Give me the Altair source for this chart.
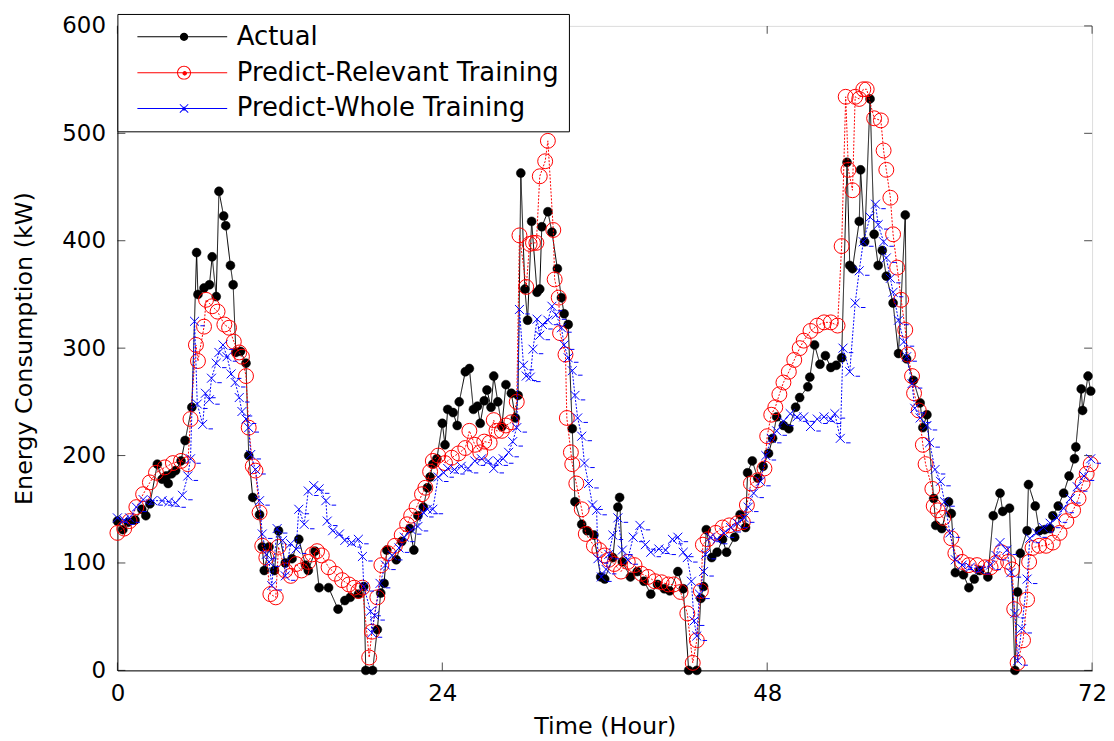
import altair as alt
import pandas as pd

# ---------------- data ----------------
series_names = ["Actual", "Predict-Relevant Training", "Predict-Whole Training"]
series_colors = ["#000000", "#ff0000", "#0000ff"]
x_ticks = [0, 24, 48, 72]
y_ticks = [0, 100, 200, 300, 400, 500, 600]

actual_hour = [0.0, 0.4, 0.8, 1.3, 1.8, 2.1, 2.4, 2.95, 3.3, 3.6, 3.75, 4.0, 4.3, 4.7, 5.0, 5.5, 5.85, 5.95,
               6.4, 6.8, 7.0, 7.3, 7.5, 7.85, 8.0, 8.35, 8.55, 8.75, 9.1, 9.5, 9.7, 10.0, 10.5, 10.7, 10.85,
               11.2, 11.6, 11.9, 12.4, 12.9, 13.4, 13.9, 14.1, 14.6, 14.9, 15.6, 16.3, 16.8, 17.2, 17.8, 18.2,
               18.35, 18.85, 19.2, 19.45, 19.7, 19.9, 20.6, 21.0, 21.6, 21.9, 22.2, 22.6, 22.9, 23.1, 23.3, 23.6,
               24.0, 24.2, 24.4, 24.8, 25.1, 25.25, 25.7, 26.0, 26.3, 26.6, 26.8, 27.1, 27.3, 27.6, 27.8, 28.1,
               28.4, 28.7, 29.1, 29.4, 29.6, 29.8, 30.1, 30.3, 30.6, 31.0, 31.2, 31.35, 31.8, 32.1, 32.5, 32.8,
               33.0, 33.3, 33.6, 33.8, 34.3, 34.7, 35.2, 35.7, 36.0, 36.6, 36.97, 37.1, 37.3, 37.9, 38.4, 38.9,
               39.4, 39.9, 40.4, 40.8, 41.4, 41.8, 42.2, 42.8, 43.1, 43.3, 43.5, 43.9, 44.3, 44.7, 45.0, 45.6,
               46.0, 46.4, 46.55, 46.9, 47.3, 47.7, 48.1, 48.4, 48.7, 49.2, 49.6, 50.1, 50.4, 51.0, 51.15, 51.5,
               51.9, 52.3, 52.7, 53.1, 53.5, 53.9, 54.1, 54.3, 54.8, 54.9, 55.2, 55.6, 55.9, 56.2, 56.5, 56.8,
               57.3, 57.7, 58.2, 58.3, 58.8, 59.3, 59.5, 59.8, 60.3, 60.45, 60.9, 61.4, 61.6, 61.9, 62.5, 62.9,
               63.3, 63.7, 64.3, 64.7, 65.2, 65.4, 65.9, 66.3, 66.5, 66.7, 67.2, 67.3, 67.8, 68.1, 68.5, 68.9,
               69.1, 69.5, 69.9, 70.3, 70.7, 70.8, 71.2, 71.3, 71.7, 71.9]
actual_kw = [139, 131, 138, 140, 150, 144, 155, 192, 178, 181, 174, 183, 186, 195, 214, 245, 389, 350,
             356, 359, 385, 348, 446, 423, 414, 377, 359, 296, 297, 286, 200, 161, 145, 115, 93,
             115, 93, 130, 100, 104, 122, 98, 93, 111, 77, 77, 57, 65, 68, 71, 78,
             0, 0, 38, 72, 81, 112, 103, 120, 132, 112, 144, 152, 170, 180, 192, 197,
             230, 210, 243, 240, 228, 250, 278, 281, 243, 246, 230, 251, 261, 245, 274, 250,
             227, 266, 258, 235, 256, 463, 355, 326, 418, 352, 355, 413, 427, 408, 374, 347,
             332, 322, 225, 157, 136, 130, 126, 87, 85, 105, 152, 161, 101, 87, 92, 83,
             71, 80, 76, 74, 92, 76, 0, 0, 67, 78, 131, 105, 110, 122, 110, 124,
             145, 133, 184, 195, 179, 190, 202, 216, 236, 228, 225, 245, 254, 264, 273, 303,
             285, 293, 282, 284, 291, 473, 377, 374, 418, 466, 399, 532, 406, 377, 391, 367,
             342, 295, 424, 290, 270, 249, 226, 238, 160, 135, 132, 157, 146, 91, 89, 77,
             85, 93, 87, 144, 165, 148, 151, 0, 73, 109, 130, 173, 153, 130, 131, 132,
             144, 153, 165, 181, 197, 208, 262, 242, 274, 260]

relevant_hour = [0.0, 0.5, 0.9, 1.4, 1.9, 2.4, 2.85, 3.5, 4.1, 4.7, 5.2, 5.4, 5.8, 5.95, 6.4, 6.55, 7.0, 7.4,
                 7.9, 8.25, 8.6, 9.0, 9.2, 9.5, 9.7, 10.0, 10.2, 10.5, 10.7, 11.0, 11.3, 11.7, 11.9, 12.4,
                 12.8, 13.2, 13.6, 14.1, 14.4, 14.75, 15.1, 15.6, 16.1, 16.6, 17.1, 17.5, 17.8, 18.1, 18.6,
                 18.8, 19.2, 19.5, 20.0, 20.5, 21.0, 21.4, 21.7, 22.1, 22.5, 22.75, 23.1, 23.3, 23.7, 24.2,
                 24.7, 25.2, 25.7, 26.0, 26.4, 26.8, 27.1, 27.5, 27.8, 28.0, 28.4, 28.7, 29.1, 29.5, 29.7,
                 30.2, 30.45, 30.7, 30.95, 31.2, 31.6, 31.8, 32.2, 32.3, 32.6, 32.7, 33.1, 33.2, 33.5, 33.6,
                 33.9, 34.3, 34.6, 35.2, 35.6, 36.0, 36.3, 36.7, 37.2, 37.7, 38.2, 38.7, 39.2, 39.7, 40.2,
                 40.7, 41.1, 41.6, 42.1, 42.5, 42.8, 43.1, 43.25, 43.6, 44.2, 44.7, 45.2, 45.8, 46.2, 46.5,
                 46.8, 47.3, 47.8, 48.0, 48.3, 48.6, 48.9, 49.2, 49.6, 50.0, 50.4, 50.7, 51.2, 51.7, 52.2,
                 52.7, 53.2, 53.5, 53.8, 54.0, 54.3, 54.5, 54.8, 55.1, 55.35, 55.9, 56.4, 56.6, 56.8, 57.1,
                 57.3, 57.6, 57.9, 58.2, 58.4, 58.7, 58.85, 59.2, 59.5, 59.7, 60.2, 60.3, 60.6, 61.0, 61.6,
                 61.9, 62.4, 62.9, 63.5, 64.1, 64.5, 64.9, 65.3, 65.8, 66.1, 66.25, 66.5, 66.9, 67.2, 67.35,
                 67.6, 68.1, 68.6, 69.1, 69.6, 70.1, 70.6, 71.0, 71.3, 71.6, 71.9]
relevant_kw = [128, 132, 139, 152, 164, 175, 184, 189, 193, 195, 192, 234, 303, 288, 320, 345, 339, 334,
               322, 319, 306, 296, 292, 274, 226, 190, 186, 147, 116, 105, 71, 68, 115, 93,
               88, 99, 93, 101, 108, 111, 107, 96, 90, 84, 80, 77, 74, 77, 12,
               36, 68, 98, 109, 116, 126, 136, 144, 152, 164, 170, 185, 195, 200, 193,
               198, 202, 207, 223, 210, 203, 213, 212, 233, 223, 223, 228, 231, 250, 405,
               357, 397, 398, 398, 460, 474, 493, 410, 364, 347, 314, 294, 235, 203, 192,
               174, 150, 127, 116, 112, 107, 103, 99, 92, 101, 98, 90, 87, 83, 82,
               80, 80, 73, 53, 7, 28, 74, 117, 122, 128, 133, 135, 137, 138, 154,
               174, 177, 188, 218, 238, 245, 257, 268, 278, 289, 300, 307, 316, 321, 324,
               324, 321, 395, 534, 466, 447, 534, 532, 541, 541, 514, 512, 484, 466, 440,
               406, 375, 345, 317, 294, 274, 258, 242, 210, 192, 169, 153, 149, 142, 123,
               109, 101, 98, 98, 96, 96, 100, 110, 101, 94, 57, 7, 28, 66, 101,
               114, 116, 116, 119, 128, 139, 149, 160, 174, 183, 192]

whole_hour = [0.0, 0.5, 0.9, 1.4, 1.9, 2.6, 3.3, 3.8, 4.3, 4.8, 5.2, 5.4, 5.7, 5.9, 6.3, 6.5, 6.8, 6.95, 7.3,
              7.5, 7.8, 8.1, 8.4, 8.7, 9.0, 9.2, 9.5, 9.7, 9.85, 10.2, 10.5, 10.7, 11.0, 11.2, 11.4, 11.8,
              12.2, 12.4, 12.8, 13.2, 13.4, 13.8, 14.1, 14.5, 14.9, 15.4, 15.5, 15.9, 16.4, 16.8, 17.3,
              17.8, 18.1, 18.2, 18.7, 18.8, 19.0, 19.4, 19.8, 20.3, 20.8, 21.2, 21.7, 22.2, 22.6, 22.9,
              23.3, 23.7, 24.1, 24.4, 24.9, 25.4, 25.9, 26.4, 26.9, 27.4, 27.8, 28.1, 28.5, 28.9, 29.2,
              29.5, 29.7, 30.0, 30.2, 30.5, 30.7, 31.0, 31.2, 31.4, 31.8, 32.1, 32.4, 32.8, 33.0, 33.3,
              33.6, 33.8, 34.0, 34.3, 34.5, 34.8, 35.1, 35.4, 35.5, 35.75, 36.1, 36.3, 36.6, 36.97, 37.3,
              37.7, 38.1, 38.6, 39.0, 39.4, 40.0, 40.5, 41.0, 41.4, 41.8, 42.1, 42.4, 42.6, 42.8, 43.0,
              43.3, 43.45, 43.8, 44.3, 44.8, 45.3, 45.8, 46.3, 46.6, 47.0, 47.5, 47.9, 48.3, 48.7, 49.2,
              49.7, 50.2, 50.7, 51.2, 51.7, 52.2, 52.7, 53.0, 53.4, 53.6, 54.1, 54.5, 54.8, 55.1, 55.6,
              56.0, 56.2, 56.6, 56.8, 57.1, 57.3, 57.7, 58.1, 58.3, 58.7, 58.9, 59.3, 59.8, 60.0, 60.4,
              60.8, 61.1, 61.5, 61.9, 62.4, 63.0, 63.7, 64.5, 64.9, 65.2, 65.7, 66.0, 66.3, 66.5, 66.8,
              67.2, 67.4, 67.9, 68.4, 68.9, 69.4, 69.9, 70.4, 70.9, 71.4, 71.9]
whole_kw = [142, 140, 142, 152, 159, 158, 158, 157, 156, 163, 181, 197, 325, 248, 229, 258, 252, 272, 286,
            296, 303, 292, 276, 268, 254, 241, 234, 226, 201, 187, 158, 127, 108, 101, 79, 132,
            121, 88, 118, 113, 150, 136, 167, 172, 169, 158, 139, 130, 127, 121, 119,
            122, 106, 78, 55, 35, 51, 81, 98, 107, 114, 124, 131, 134, 147, 150,
            150, 180, 184, 188, 187, 190, 188, 195, 197, 195, 188, 195, 197, 203, 213,
            226, 336, 284, 274, 273, 299, 327, 312, 322, 326, 339, 331, 319, 303, 291,
            279, 256, 235, 218, 193, 174, 154, 149, 104, 87, 94, 108, 126, 142, 112,
            103, 124, 135, 117, 110, 113, 112, 122, 124, 110, 105, 83, 46, 32, 71,
            92, 108, 124, 122, 128, 133, 137, 142, 152, 165, 176, 200, 216, 223, 232,
            239, 236, 236, 227, 234, 236, 234, 239, 216, 300, 278, 342, 372, 399, 422,
            434, 415, 399, 384, 365, 352, 326, 306, 292, 267, 244, 235, 228, 212, 187,
            176, 157, 128, 103, 98, 96, 94, 98, 107, 119, 112, 91, 53, 9, 39,
            85, 123, 128, 133, 137, 142, 151, 160, 171, 181, 197]

# ---------------- build table ----------------
frames = []
for name, hrs, kws in zip(series_names,
                          [actual_hour, relevant_hour, whole_hour],
                          [actual_kw, relevant_kw, whole_kw]):
    frames.append(pd.DataFrame({"hour": hrs, "kw": kws, "series": name}))
df = pd.concat(frames, ignore_index=True)
xt_df = pd.DataFrame({"hour": x_ticks})
yt_df = pd.DataFrame({"kw": y_ticks})

W, H = 980, 648
FONT = "DejaVu Sans"

x_enc = alt.X("hour:Q",
              scale=alt.Scale(domain=[0, 72], nice=False, zero=False),
              axis=alt.Axis(values=x_ticks, title="Time (Hour)", grid=False, ticks=False, tickSize=0,
                            domainColor="black", domainWidth=1, labelPadding=12, titlePadding=9,
                            labelFlush=False,
                            labelFontSize=23, titleFontSize=24, labelColor="black", titleColor="black",
                            titleFontWeight="normal", labelFont=FONT, titleFont=FONT))
y_enc = alt.Y("kw:Q",
              scale=alt.Scale(domain=[0, 600], nice=False),
              axis=alt.Axis(values=y_ticks, title="Energy Consumption (kW)", grid=False, ticks=False,
                            tickSize=0, domainColor="black", domainWidth=1, labelPadding=12,
                            titlePadding=25, labelFontSize=23, titleFontSize=24, labelColor="black",
                            titleColor="black", titleFontWeight="normal", labelFont=FONT,
                            titleFont=FONT))

# legend symbols: a 1px line with the series marker on it, all as filled paths (1 unit = 7 px)
LINE = "M-6.7,-0.07H6.2V0.07H-6.7Z"
path_actual = LINE + "M0.6,0A0.6,0.6,0,1,1,-0.6,0A0.6,0.6,0,1,1,0.6,0Z"
path_relevant = (LINE
                 + "M1,0A1,1,0,1,1,-1,0A1,1,0,1,1,1,0Z"
                 + "M0.86,0A0.86,0.86,0,1,0,-0.86,0A0.86,0.86,0,1,0,0.86,0Z"
                 + "M0.43,0.1A0.33,0.33,0,1,1,-0.23,0.1A0.33,0.33,0,1,1,0.43,0.1Z")
path_whole = (LINE
              + "M-0.55,-0.65L0.65,0.55L0.55,0.65L-0.65,-0.55Z"
              + "M-0.55,0.65L-0.65,0.55L0.55,-0.65L0.65,-0.55Z"
              + "M-0.35,0.3L0,-0.3L0.35,0.3Z")
legend_paths = [path_actual, path_relevant, path_whole]

legend = alt.Legend(
    orient="none", legendX=0, legendY=-12, title=None,
    fillColor="white", strokeColor="black",
    padding=10, rowPadding=10,
    labelFont=FONT, labelFontSize=26, labelColor="black", labelLimit=500,
    symbolSize=196, symbolStrokeWidth=0, symbolOffset=44, labelOffset=40, symbolOpacity=1,
)


def series_line(name, color, dash):
    return alt.Chart(df).transform_filter(alt.datum.series == name).mark_line(
        strokeWidth=1, color=color, strokeDash=dash
    ).encode(x=x_enc, y=y_enc)


line_actual = series_line("Actual", "#000000", [1, 0])
line_relevant = series_line("Predict-Relevant Training", "#ff0000", [2, 1.5])
line_whole = series_line("Predict-Whole Training", "#0000ff", [2, 1.5])

# legend-only layer (no rows pass the filter; entries come from the scale domain)
legend_layer = alt.Chart(df).transform_filter(alt.datum.kw < -1).mark_point(
    filled=True, opacity=1, size=196
).encode(
    x=x_enc, y=y_enc,
    color=alt.Color("series:N", scale=alt.Scale(domain=series_names, range=series_colors),
                    legend=legend),
    shape=alt.Shape("series:N", scale=alt.Scale(domain=series_names, range=legend_paths),
                    legend=legend),
)

pts_actual = alt.Chart(df).transform_filter(alt.datum.series == "Actual").mark_point(
    shape="circle", filled=True, fill="#000000", stroke="#000000", strokeWidth=0.5, size=81, opacity=1
).encode(x=x_enc, y=y_enc)

pts_relevant = alt.Chart(df).transform_filter(
    alt.datum.series == "Predict-Relevant Training").mark_point(
    shape="circle", filled=False, stroke="#ff0000", strokeWidth=1, size=225, opacity=1
).encode(x=x_enc, y=y_enc)

x_marker = "M-1,-1L1,1M-1,1L1,-1M1.3,1H2.3"
pts_whole = alt.Chart(df).transform_filter(
    alt.datum.series == "Predict-Whole Training").mark_point(
    shape=x_marker, filled=False, stroke="#0000ff", strokeWidth=1, size=81, opacity=1
).encode(x=x_enc, y=y_enc)

# inward ticks on all four sides
tick_left = alt.Chart(yt_df).mark_tick(orient="horizontal", size=8, thickness=1, color="black").encode(
    y=y_enc, x=alt.value(4))
tick_right = alt.Chart(yt_df).mark_tick(orient="horizontal", size=8, thickness=1, color="black").encode(
    y=y_enc, x=alt.value(W - 4))
tick_bottom = alt.Chart(xt_df).mark_tick(orient="vertical", size=8, thickness=1, color="black").encode(
    x=x_enc, y=alt.value(H - 4))
tick_top = alt.Chart(xt_df).mark_tick(orient="vertical", size=8, thickness=1, color="black").encode(
    x=x_enc, y=alt.value(4))

chart = alt.layer(
    tick_left, tick_right, tick_bottom, tick_top,
    line_actual, pts_actual, line_relevant, pts_relevant, line_whole, pts_whole, legend_layer,
).properties(
    width=W, height=H,
    autosize=alt.AutoSizeParams(type="none"),
    padding={"left": 110, "top": 16, "right": 14, "bottom": 68},
    background="white",
).configure_view(
    stroke="black", strokeWidth=1
).configure(
    font=FONT
)

chart.save("out.html", embed_options={"renderer": "svg", "actions": False})
